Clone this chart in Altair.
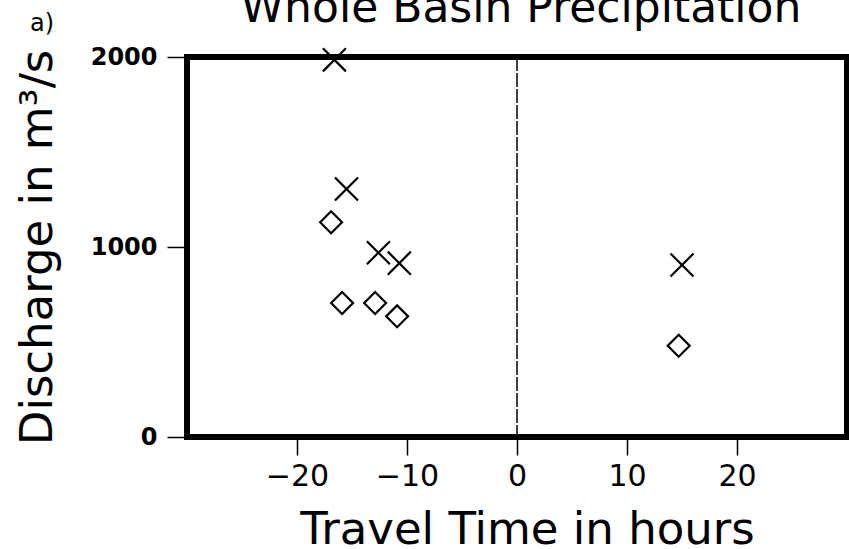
import altair as alt
import pandas as pd

# Travel time (hours) and discharge (m^3/s) for the two event groups
cross_time = [-16.6, -15.5, -12.6, -10.7, 15.0]
cross_discharge = [1985, 1305, 970, 915, 905]
diamond_time = [-16.9, -15.9, -12.9, -10.9, 14.7]
diamond_discharge = [1130, 705, 705, 635, 480]

x_ticks = [-20, -10, 0, 10, 20]
y_ticks = [0, 1000, 2000]
zero_line = [0]

FONT = "DejaVu Sans"
X_PATH = "M-1,-1L1,1M-1,1L1,-1"

crosses_df = pd.DataFrame({"t": cross_time, "q": cross_discharge})
diamonds_df = pd.DataFrame({"t": diamond_time, "q": diamond_discharge})
zero_df = pd.DataFrame({"t": zero_line})
panel_df = pd.DataFrame({"label": ["a)"]})
heading_df = pd.DataFrame({"label": ["Whole Basin Precipitation"]})

x_scale = alt.Scale(domain=[-30, 30], nice=False, zero=False)
y_scale = alt.Scale(domain=[0, 2000], nice=False)

x_enc = alt.X(
    "t:Q",
    scale=x_scale,
    axis=alt.Axis(
        values=x_ticks,
        format="d",
        title="Travel Time in hours",
        titleFont=FONT,
        titleFontSize=45,
        titleFontWeight="normal",
        titleBaseline="alphabetic",
        titleX=340,
        titleY=106,
        labelFont=FONT,
        labelFontSize=30,
        labelPadding=6,
        tickSize=18,
    ),
)
y_enc = alt.Y(
    "q:Q",
    scale=y_scale,
    axis=alt.Axis(
        values=y_ticks,
        format="d",
        title="Discharge in m³/s",
        titleFont=FONT,
        titleFontSize=45,
        titleFontWeight="normal",
        titleAngle=-90,
        titleAlign="center",
        titleBaseline="alphabetic",
        titleX=-136,
        titleY=190,
        labelFont=FONT,
        labelFontSize=24,
        labelFontWeight="bold",
        labelPadding=10,
        tickSize=20,
    ),
)

zero_rule = (
    alt.Chart(zero_df)
    .mark_rule(color="black", strokeWidth=1.5, strokeDash=[14, 2])
    .encode(x=x_enc)
)

crosses = (
    alt.Chart(crosses_df)
    .mark_point(shape=X_PATH, size=530, filled=False, color="black", strokeWidth=2.2, opacity=1)
    .encode(x=x_enc, y=y_enc)
)

diamonds = (
    alt.Chart(diamonds_df)
    .mark_point(shape="diamond", size=480, filled=False, color="black", strokeWidth=2.2, opacity=1)
    .encode(x=x_enc, y=y_enc)
)

# Panel letter and heading above the frame
panel_label = (
    alt.Chart(panel_df)
    .mark_text(font=FONT, fontSize=24, color="black", align="center", baseline="alphabetic")
    .encode(text="label:N", x=alt.value(-145), y=alt.value(-26))
)

heading = (
    alt.Chart(heading_df)
    .mark_text(font=FONT, fontSize=44, color="black", align="center", baseline="alphabetic")
    .encode(text="label:N", x=alt.value(334), y=alt.value(-35))
)

chart = (
    alt.layer(zero_rule, crosses, diamonds, panel_label, heading)
    .properties(
        width=660,
        height=380,
        autosize="none",
        background="white",
        padding={"left": 187, "top": 57, "right": 2, "bottom": 112},
    )
    .configure_view(stroke="black", strokeWidth=6)
    .configure_axis(
        domain=False,
        grid=False,
        tickColor="black",
        tickWidth=1.5,
        labelColor="black",
        titleColor="black",
    )
)

chart.save("out.html", embed_options={"renderer": "svg", "actions": False})
